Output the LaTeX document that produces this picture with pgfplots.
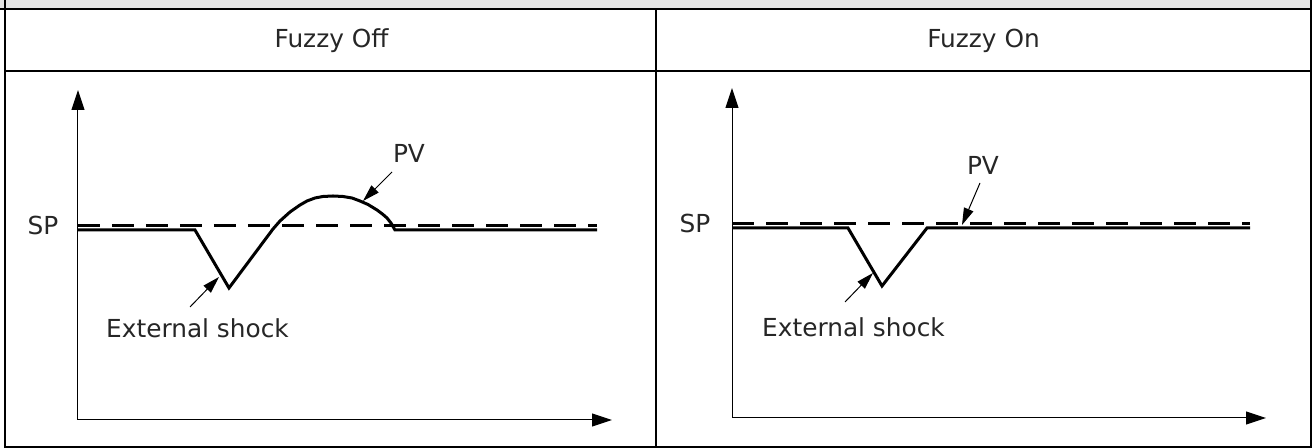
\documentclass[border=0pt]{standalone}
\usepackage{pgfplots}
\pgfplotsset{compat=1.18}
\usetikzlibrary{arrows.meta}
\usepackage{fontspec}
\setmainfont{DejaVu Sans}

\tikzset{note/.style={line width=0.5pt, -{Triangle[length=8.5pt,width=5pt]}}}
\pgfplotsset{
    panel/.style={
        x=0.5pt, y=0.5pt,
        anchor=south west,
        axis lines=left,
        axis line style={line width=0.5pt, -{Triangle[length=10pt,width=6.5pt]}},
        xtick=\empty, ytick=\empty,
        clip=false,
    },
    pv/.style={black, line width=1.5pt, no marks},
    sp/.style={black, line width=1.5pt, dash pattern=on 11pt off 6pt, no marks},
}

\begin{document}
\begin{tikzpicture}[x=0.5pt,y=0.5pt,font=\fontsize{12.4}{14}\selectfont,
    every node/.append style={text=black!85, inner sep=0pt}]
\path[use as bounding box] (0,0) rectangle (1314,448);

% table frame
\fill[black!10] (0,439) rectangle (1311,448);
\draw[line width=1pt] (0,439) -- (1311,439);
\draw[line width=1pt] (5,377) -- (1311,377);
\draw[line width=1pt] (5,1) -- (1311,1);
\draw[line width=1pt] (5,448) -- (5,0);
\draw[line width=1pt] (1311,448) -- (1311,0);
\draw[line width=1pt] (656,439) -- (656,0);
\node[anchor=base] at (331.5,400) {Fuzzy Off};
\node[anchor=base] at (983.5,400) {Fuzzy On};

% Fuzzy Off
\begin{axis}[panel, at={(78,28)}, xmin=78, xmax=612, ymin=28, ymax=358]
    \addplot[sp] coordinates {(78,222) (597,222)};
    \addplot[pv] coordinates {
        (78,218) (195,218) (229,160) (273,219)
        (280,227) (290,236) (300,243) (307,247) (315,250) (323,251.5)
        (333,252) (343,251.5) (352,250) (360,247) (368,243.5) (377,238)
        (383,233.5) (387,230) (391,225) (395,218) (597,218)
    };
    \node[anchor=base] at (axis cs:43,213) {SP};
    \node[anchor=base] at (axis cs:409,285) {PV};
    \draw[note] (axis cs:392,276) -- (axis cs:363,247);
    \node[anchor=base] at (axis cs:197.5,110) {External shock};
    \draw[note] (axis cs:190,141) -- (axis cs:219,171);
\end{axis}

% Fuzzy On
\begin{axis}[panel, at={(732,30)}, xmin=732, xmax=1266, ymin=30, ymax=360]
    \addplot[sp] coordinates {(732,224) (1250,224)};
    \addplot[pv] coordinates {(732,220) (848,220) (882,162) (927,220) (1250,220)};
    \node[anchor=base] at (axis cs:695,215) {SP};
    \node[anchor=base] at (axis cs:983,273) {PV};
    \draw[note] (axis cs:980,265) -- (axis cs:962,223);
    \node[anchor=base] at (axis cs:853.5,111) {External shock};
    \draw[note] (axis cs:845,146) -- (axis cs:873,175);
\end{axis}
\end{tikzpicture}
\end{document}
